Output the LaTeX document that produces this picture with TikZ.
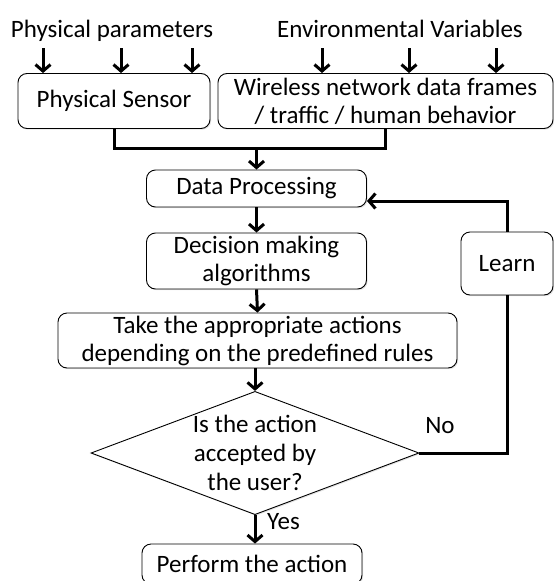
\documentclass[tikz,border=0pt]{standalone}
\usepackage{fontspec}
\setmainfont{Carlito}
\usetikzlibrary{arrows.meta,shapes.geometric,shadows}
\begin{document}
\begin{tikzpicture}[x=1pt,y=-1pt,
  font=\fontsize{25}{28}\selectfont,
  shd/.style={drop shadow={opacity=0.22, shadow xshift=1.2pt, shadow yshift=-1.2pt}},
  box/.style={draw, fill=white, shd, rounded corners=9pt, line width=0.9pt, inner sep=0pt, align=center},
  arr/.style={line width=3pt, -{Straight Barb[length=6.5pt,width=15pt]}},
  ln/.style={line width=3pt},
  lbl/.style={inner sep=0pt, anchor=base}]
\useasboundingbox (0,0) rectangle (554,581);

% headings
\node[lbl] (hp) at (112,37) {Physical parameters};
\node[lbl] (he) at (400,37) {Environmental Variables};

% boxes
\node[box, minimum width=192pt, minimum height=55pt] (ps) at (114,101) {Physical Sensor};
\node[box, minimum width=335pt, minimum height=55pt] (wl) at (385.5,101) {Wireless network data frames\\/ traffic / human behavior};
\node[box, minimum width=220pt, minimum height=37pt] (dp) at (256.5,188.5) {Data Processing};
\node[box, minimum width=220pt, minimum height=56pt] (dm) at (256.5,261) {Decision making\\algorithms};
\node[box, minimum width=399pt, minimum height=55pt] (ta) at (257.5,340.5) {Take the appropriate actions\\depending on the predefined rules};
\node[box, minimum width=92pt, minimum height=63pt] (le) at (507,263.5) {Learn};
\node[draw, fill=white, shd, diamond, aspect=2.6, line width=0.9pt, inner sep=0pt, minimum width=328pt, minimum height=120pt, align=center,
      font=\fontsize{25}{29}\selectfont] (dia) at (255,453) {Is the action\\accepted by\\the user?};
\node[box, minimum width=220pt, minimum height=40pt] (pf) at (252,564) {Perform the action};

% labels
\node[lbl] (no) at (440,433) {No};
\node[lbl, anchor=base west] (yes) at (267,529) {Yes};

% input arrows
\coordinate (p1) at (43,48);
\coordinate (p2) at (121,48);
\coordinate (p3) at (192,48);
\coordinate (e1) at (322,48);
\coordinate (e2) at (409,48);
\coordinate (e3) at (496,48);
\foreach \c in {p1,p2,p3}{\draw[arr] (\c) -- (\c |- ps.north);}
\foreach \c in {e1,e2,e3}{\draw[arr] (\c) -- (\c |- wl.north);}

% merge
\coordinate (j) at (256.5,148);
\draw[ln] (ps.south) |- (j);
\draw[ln] (wl.south) |- (j);
\draw[arr] (j) -- (dp.north);

% main flow
\draw[arr] (dp.south) -- (dm.north);
\draw[arr] (dm.south) -- (ta.south |- dm.south |- ta.north);
\draw[arr] (ta.south -| dia.north) -- (dia.north);
\draw[arr] (dia.south) -- (dia.south |- pf.north);

% feedback
\draw[ln] (dia.east) -| (le.south);
\draw[arr] (le.north) |- ([yshift=-12.5pt]dp.east);
\end{tikzpicture}
\end{document}
